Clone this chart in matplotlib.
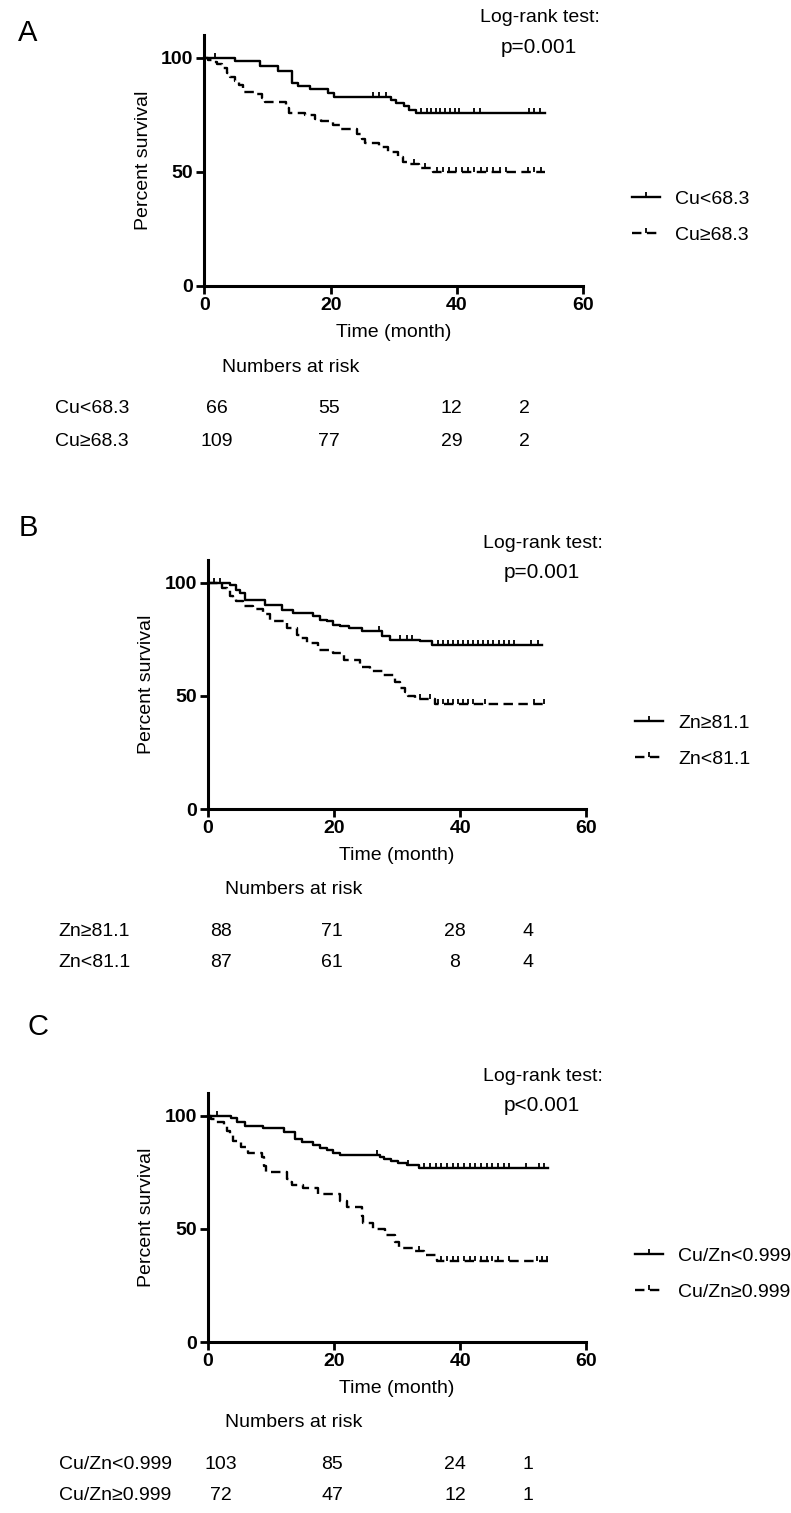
import numpy as np
import matplotlib.pyplot as plt
import matplotlib.transforms as mtransforms
from matplotlib.lines import Line2D

plt.rcParams['font.family'] = ['Liberation Sans', 'DejaVu Sans']

# ---- panel A: serum copper ----
a_labels = ["Cu<68.3", "Cu\u226568.3"]
a_low_t = [4.9, 8.8, 11.7, 13.8, 14.8, 16.7, 19.6, 20.6, 29.6, 30.4, 31.7, 32.5, 33.6]
a_low_s = [98.5, 96.5, 94.0, 89.0, 87.5, 86.3, 84.5, 83.0, 81.5, 80.0, 78.7, 77.2, 75.8]
a_low_c = [1.6, 26.7, 27.7, 28.8, 34.4, 35.2, 35.9, 36.7, 37.4, 38.2, 38.9, 39.7, 40.4,
           42.8, 43.6, 51.5, 52.3, 53.2]
a_high_t = [0.6, 1.3, 2.0, 2.8, 3.5, 4.1, 4.8, 5.5, 6.1, 8.3, 9.1, 9.6, 13.0, 13.4, 16.0,
            17.5, 18.5, 20.4, 21.6, 24.1, 25.0, 25.5, 27.6, 29.1, 30.6, 31.4, 32.4, 34.0, 36.2]
a_high_s = [99.1, 98.2, 97.2, 95.4, 93.5, 91.7, 89.8, 88.0, 85.2, 84.3, 82.4, 80.7, 77.8,
            76.0, 75.1, 73.3, 72.4, 70.6, 68.7, 66.4, 64.5, 62.6, 60.7, 58.7, 56.5, 54.5,
            53.4, 51.5, 50.0]
a_high_c = [33.2, 35.0, 36.8, 37.8, 38.8, 39.8, 40.8, 41.8, 42.8, 43.8, 44.8, 45.8, 46.8,
            47.8, 51.3, 52.2, 53.3]
a_end = [54, 54]
a_risk = [[66, 55, 12, 2], [109, 77, 29, 2]]
a_p = "p=0.001"

# ---- panel B: serum zinc ----
b_labels = ["Zn\u226581.1", "Zn<81.1"]
b_high_t = [3.5, 4.4, 5.0, 5.9, 9.0, 11.7, 13.5, 16.7, 17.8, 18.8, 19.9, 21.0, 22.3, 24.4,
            27.6, 28.9, 33.7, 35.5]
b_high_s = [98.9, 96.6, 95.5, 92.5, 90.3, 88.1, 86.6, 85.1, 83.6, 82.9, 81.4, 80.7, 80.0,
            78.5, 76.3, 74.8, 74.0, 72.6]
b_high_c = [1.9, 27.2, 30.5, 31.5, 32.3, 36.5, 37.3, 38.1, 38.9, 39.7, 40.5, 41.3, 42.1,
            42.9, 43.7, 44.5, 45.3, 46.1, 46.9, 47.7, 48.5, 51.3, 52.4]
b_low_t = [2.2, 3.0, 3.5, 4.0, 4.5, 5.6, 7.2, 8.8, 9.8, 12.5, 14.1, 14.6, 15.7, 17.5, 19.9,
           21.5, 24.1, 25.7, 27.8, 29.6, 30.5, 31.2, 31.8, 32.8, 36.0]
b_low_s = [97.7, 96.6, 94.3, 93.1, 92.0, 89.7, 88.5, 86.2, 82.9, 80.0, 77.0, 75.5, 73.3,
           70.4, 69.0, 66.0, 62.9, 60.8, 59.3, 56.3, 53.5, 51.5, 49.7, 48.5, 46.5]
b_low_c = [1.0, 33.7, 35.2, 36.5, 37.3, 38.1, 38.9, 39.7, 40.5, 41.3, 42.1, 44.0, 51.7, 53.3]
b_end = [53, 54]
b_risk = [[88, 71, 28, 4], [87, 61, 8, 4]]
b_p = "p=0.001"

# ---- panel C: copper/zinc ratio ----
c_labels = ["Cu/Zn<0.999", "Cu/Zn\u22650.999"]
c_low_t = [3.6, 4.6, 5.9, 8.8, 12.0, 13.8, 14.9, 16.7, 17.8, 18.8, 19.9, 21.0, 27.3, 28.0,
           29.0, 30.2, 31.5, 33.4]
c_low_s = [98.8, 97.4, 95.3, 94.4, 92.6, 89.7, 88.5, 87.1, 85.6, 84.6, 83.6, 82.4, 81.6,
           80.9, 80.0, 79.2, 78.0, 76.8]
c_low_c = [1.5, 26.8, 31.8, 34.3, 35.2, 36.1, 37.0, 37.9, 38.8, 39.7, 40.6, 41.5, 42.4,
           43.3, 44.2, 45.1, 46.0, 46.9, 47.8, 50.5, 52.5, 53.3]
c_high_t = [0.5, 1.1, 2.5, 3.0, 3.5, 4.0, 5.3, 6.4, 8.5, 8.9, 9.2, 12.5, 12.8, 13.3, 15.1,
            17.5, 21.0, 22.0, 24.4, 24.6, 26.2, 28.1, 29.7, 30.3, 32.8, 34.2, 36.3]
c_high_s = [98.6, 97.2, 95.8, 93.0, 91.6, 88.9, 86.1, 83.3, 81.9, 77.8, 75.0, 72.2, 70.8,
            69.4, 68.0, 65.3, 62.5, 59.7, 55.5, 52.7, 50.0, 47.2, 44.4, 41.6, 40.2, 38.3, 36.0]
c_high_c = [33.5, 37.0, 37.9, 38.8, 39.7, 40.6, 41.5, 42.4, 43.3, 44.2, 45.1, 46.0, 47.8,
            52.2, 53.0, 53.8]
c_end = [54, 54]
c_risk = [[103, 85, 24, 1], [72, 47, 12, 1]]
c_p = "p<0.001"

risk_x = [2.0, 19.7, 39.2, 50.7]

FS = 14
LW = 1.7
styles = ["-", (0, (4.0, 2.3))]


def km_curve(ax, t, s, cens, t_end, ls):
    tt = np.concatenate([[0.0], t, [t_end]])
    ss = np.concatenate([[100.0], s, [s[-1]]])
    ax.step(tt, ss, where="post", color="black", lw=LW, ls=ls, clip_on=False)
    idx = np.searchsorted(tt, cens, side="right") - 1
    ax.plot(cens, ss[idx], ls="none", marker=2, ms=3.6, mew=1.3, color="black", clip_on=False)


def panel(rect, curves, labels, pval, risk, letter, letter_xy):
    ax = fig.add_axes(rect)
    for (t, s, c, te), ls in zip(curves, styles):
        km_curve(ax, t, s, c, te, ls)
    ax.set_xlim(0, 60)
    ax.set_ylim(0, 110)
    ax.set_xticks([0, 20, 40, 60])
    ax.set_yticks([0, 50, 100])
    for side in ["top", "right"]:
        ax.spines[side].set_visible(False)
    for side in ["left", "bottom"]:
        ax.spines[side].set_linewidth(2.2)
    ax.tick_params(direction="out", length=6, width=2, labelsize=FS, pad=2)
    for lab in ax.get_xticklabels() + ax.get_yticklabels():
        lab.set_fontweight("bold")
    ax.set_ylabel("Percent survival", fontsize=FS)
    ax.yaxis.set_label_coords(-0.139, 0.5)
    ax.set_xlabel("Time (month)", fontsize=FS)
    ax.xaxis.set_label_coords(0.5, -0.152)

    handles = [Line2D([0], [0], color="black", lw=LW, ls=ls, marker=2, ms=3.6, mew=1.3)
               for ls in styles]
    ax.legend(handles, labels, loc="center left", bbox_to_anchor=(1.13, 0.273),
              frameon=False, fontsize=FS, handlelength=1.45, handletextpad=0.75,
              labelspacing=0.95, borderpad=0, borderaxespad=0, numpoints=1)

    ax.text(0.887, 1.068, "Log-rank test:", transform=ax.transAxes,
            ha="center", va="center", fontsize=FS)
    ax.text(0.884, 0.95, pval, transform=ax.transAxes,
            ha="center", va="center", fontsize=15)
    ax.text(letter_xy[0], letter_xy[1], letter, transform=ax.transAxes,
            ha="center", va="center", fontsize=21)

    ax.text(0.045, -0.325, "Numbers at risk", transform=ax.transAxes,
            ha="left", va="center", fontsize=FS)
    blend = mtransforms.blended_transform_factory(ax.transData, ax.transAxes)
    for row, (lab, counts) in enumerate(zip(labels, risk)):
        y = -0.49 - 0.128 * row
        ax.text(-0.395, y, lab, transform=ax.transAxes, ha="left", va="center", fontsize=FS)
        for x, n in zip(risk_x, counts):
            ax.text(x, y, str(n), transform=blend, ha="center", va="center", fontsize=FS)
    return ax


fig = plt.figure(figsize=(7.91, 15.13), dpi=100)

panel((0.2585, 0.811, 0.4785, 0.1659),
      [(a_low_t, a_low_s, a_low_c, a_end[0]), (a_high_t, a_high_s, a_high_c, a_end[1])],
      a_labels, a_p, a_risk, "A", (-0.466, 1.008))
panel((0.263, 0.4653, 0.478, 0.1646),
      [(b_high_t, b_high_s, b_high_c, b_end[0]), (b_low_t, b_low_s, b_low_c, b_end[1])],
      b_labels, b_p, b_risk, "B", (-0.476, 1.129))
panel((0.263, 0.113, 0.478, 0.1646),
      [(c_low_t, c_low_s, c_low_c, c_end[0]), (c_high_t, c_high_s, c_high_c, c_end[1])],
      c_labels, c_p, c_risk, "C", (-0.45, 1.265))

fig.savefig("out.png", dpi=100, facecolor="white")
